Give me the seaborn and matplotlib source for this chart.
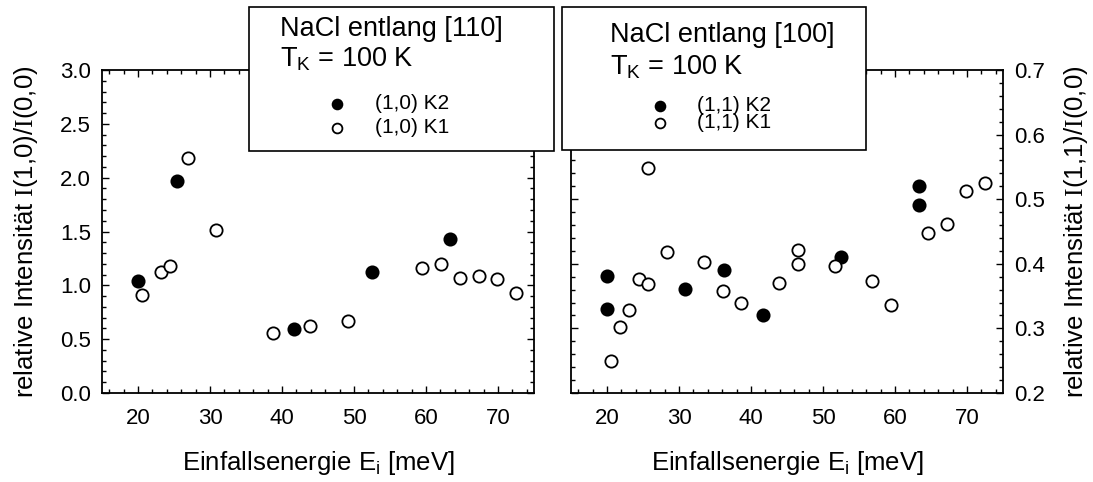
import matplotlib
matplotlib.use("Agg")
import matplotlib.pyplot as plt
import seaborn as sns
import pandas as pd
from matplotlib.ticker import MultipleLocator, FormatStrFormatter
from matplotlib.patches import Rectangle

# ---------------- data ----------------
e110_k2 = [20.0, 25.4, 41.7, 52.5, 63.4]
i110_k2 = [1.04, 1.97, 0.59, 1.12, 1.43]
e110_k1 = [20.6, 23.2, 24.4, 27.0, 30.9, 38.7, 43.9, 49.1, 59.5, 62.1, 64.7, 67.3, 69.9, 72.5]
i110_k1 = [0.91, 1.12, 1.18, 2.18, 1.51, 0.56, 0.62, 0.67, 1.16, 1.20, 1.07, 1.09, 1.06, 0.93]

e100_k2 = [20.0, 20.0, 30.8, 36.2, 41.6, 52.5, 63.3, 63.3]
i100_k2 = [0.381, 0.330, 0.361, 0.391, 0.321, 0.411, 0.521, 0.491]
e100_k1 = [20.5, 21.8, 23.1, 24.4, 25.7, 25.7, 28.3, 33.5, 36.1, 38.65, 43.9,
           46.5, 46.5, 51.7, 56.85, 59.4, 64.6, 67.2, 69.9, 72.5]
i100_k1 = [0.249, 0.302, 0.328, 0.377, 0.368, 0.548, 0.419, 0.403, 0.358, 0.339, 0.371,
           0.422, 0.400, 0.396, 0.374, 0.336, 0.447, 0.462, 0.513, 0.525]

labels110 = ["(1,0) K2", "(1,0) K1"]
labels100 = ["(1,1) K2", "(1,1) K1"]
title110 = ["NaCl entlang [110]", r"$\mathsf{T_K}$ = 100 K"]
title100 = ["NaCl entlang [100]", r"$\mathsf{T_K}$ = 100 K"]
xlabel = r"Einfallsenergie $\mathsf{E_i}$ [meV]"
ylabel110 = r"relative Intensität $\mathrm{I}$(1,0)/$\mathrm{I}$(0,0)"
ylabel100 = r"relative Intensität $\mathrm{I}$(1,1)/$\mathrm{I}$(0,0)"
xticks = [20, 30, 40, 50, 60, 70]

# ---------------- style ----------------
sns.set_style("ticks")
plt.rcParams["font.family"] = ["Liberation Sans", "DejaVu Sans"]
plt.rcParams["mathtext.fontset"] = "custom"
plt.rcParams["mathtext.rm"] = "Liberation Serif"
plt.rcParams["mathtext.sf"] = "Liberation Sans"
plt.rcParams["mathtext.it"] = "Liberation Sans:italic"
plt.rcParams["text.color"] = "black"
plt.rcParams["axes.labelcolor"] = "black"
plt.rcParams["xtick.color"] = "black"
plt.rcParams["ytick.color"] = "black"

W, H = 1093, 482
fig = plt.figure(figsize=(W / 100, H / 100), dpi=100)
fig.patch.set_facecolor("white")


def fx(px):
    return px / W


def fy(py):
    return (H - py) / H


axL = fig.add_axes([fx(102), fy(393), (534 - 102) / W, (393 - 70) / H])
axR = fig.add_axes([fx(571), fy(393), (1003 - 571) / W, (393 - 70) / H])

S = 78
LW = 1.3
TICKFS = 16
LABFS = 18.5
TITFS = 19.5
ENTFS = 15


def draw(ax, ek2, ik2, ek1, ik1):
    d2 = pd.DataFrame({"E": ek2, "I": ik2})
    d1 = pd.DataFrame({"E": ek1, "I": ik1})
    sns.scatterplot(data=d2, x="E", y="I", ax=ax, s=S, color="black",
                    edgecolor="black", linewidth=LW, zorder=3, legend=False)
    sns.scatterplot(data=d1, x="E", y="I", ax=ax, s=S, color="white",
                    edgecolor="black", linewidth=LW, zorder=4, legend=False)


draw(axL, e110_k2, i110_k2, e110_k1, i110_k1)
draw(axR, e100_k2, i100_k2, e100_k1, i100_k1)

for ax in (axL, axR):
    ax.set_xlim(15, 75)
    ax.set_xticks(xticks)
    ax.xaxis.set_minor_locator(MultipleLocator(2))
    for sp in ax.spines.values():
        sp.set_linewidth(1.3)
        sp.set_color("black")
    ax.tick_params(which="both", direction="in", top=True, bottom=True,
                   left=True, right=True, colors="black", width=1.0)
    ax.tick_params(which="major", length=5)
    ax.tick_params(which="minor", length=3)
    ax.tick_params(axis="x", labelsize=TICKFS, pad=11)
    ax.tick_params(axis="y", labelsize=TICKFS, pad=8)
    ax.set_xlabel(xlabel, fontsize=LABFS, labelpad=14, color="black")

axL.set_ylim(0, 3.0)
axL.yaxis.set_major_locator(MultipleLocator(0.5))
axL.yaxis.set_minor_locator(MultipleLocator(0.1))
axL.yaxis.set_major_formatter(FormatStrFormatter("%.1f"))
axL.set_ylabel(ylabel110, fontsize=LABFS, labelpad=14, color="black")

axR.set_ylim(0.2, 0.7)
axR.yaxis.set_major_locator(MultipleLocator(0.1))
axR.yaxis.set_minor_locator(MultipleLocator(0.02))
axR.yaxis.set_major_formatter(FormatStrFormatter("%.1f"))
axR.yaxis.set_label_position("right")
axR.tick_params(axis="y", which="both", labelleft=False, labelright=True)
axR.set_ylabel(ylabel100, fontsize=LABFS, labelpad=12, color="black")


# ---------------- boxes with legends ----------------
def box(x0, x1, y0, y1, title, tx, tb, handles, labels, hx, htop, lspace, hpad):
    rect = Rectangle((fx(x0), fy(y1)), (x1 - x0) / W, (y1 - y0) / H,
                     transform=fig.transFigure, facecolor="white",
                     edgecolor="black", linewidth=1.2, zorder=10)
    fig.add_artist(rect)
    for t, b in zip(title, tb):
        fig.text(fx(tx), fy(b), t, fontsize=TITFS, va="baseline", ha="left",
                 color="black", zorder=11)
    leg = fig.legend(handles, labels, loc="upper left",
                     bbox_to_anchor=(fx(hx), fy(htop)), frameon=False,
                     fontsize=ENTFS, borderpad=0, borderaxespad=0,
                     handlelength=1.0, handletextpad=hpad,
                     labelspacing=lspace, markerscale=0.8, labelcolor="black")
    leg.set_zorder(12)


box(249, 554, 7, 151, title110, 280, [36, 66.5],
    axL.collections[:2], labels110, 326.6, 94, 0.26, 1.33)
box(562, 866, 7, 150, title100, 610, [42.5, 74.5],
    axR.collections[:2], labels100, 649.6, 96, -0.08, 1.28)

fig.savefig("out.png", dpi=100, facecolor="white")
